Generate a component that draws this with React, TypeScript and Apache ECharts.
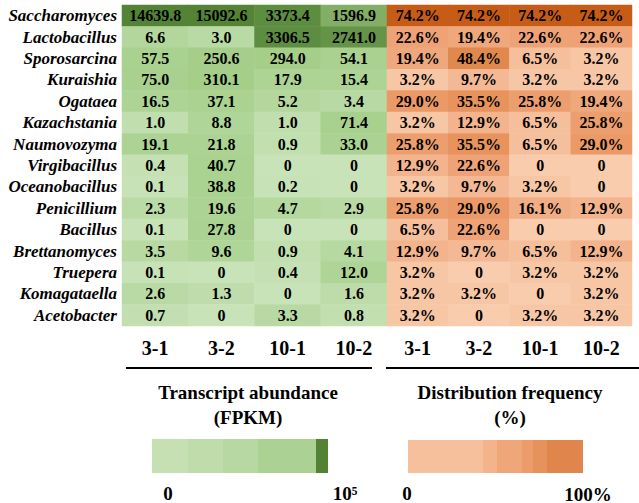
import React, { useEffect, useRef } from "react";
import * as echarts from "echarts";

const genera = [
  "Saccharomyces", "Lactobacillus", "Sporosarcina", "Kuraishia", "Ogataea",
  "Kazachstania", "Naumovozyma", "Virgibacillus", "Oceanobacillus", "Penicillium",
  "Bacillus", "Brettanomyces", "Truepera", "Komagataella", "Acetobacter",
];
const samples = ["3-1", "3-2", "10-1", "10-2"];

// Transcript abundance (FPKM), one array per sample, in genera order
const fpkm_3_1 = [14639.8, 6.6, 57.5, 75.0, 16.5, 1.0, 19.1, 0.4, 0.1, 2.3, 0.1, 3.5, 0.1, 2.6, 0.7];
const fpkm_3_2 = [15092.6, 3.0, 250.6, 310.1, 37.1, 8.8, 21.8, 40.7, 38.8, 19.6, 27.8, 9.6, 0, 1.3, 0];
const fpkm_10_1 = [3373.4, 3306.5, 294.0, 17.9, 5.2, 1.0, 0.9, 0, 0.2, 4.7, 0, 0.9, 0.4, 0, 3.3];
const fpkm_10_2 = [1596.9, 2741.0, 54.1, 15.4, 3.4, 71.4, 33.0, 0, 0, 2.9, 0, 4.1, 12.0, 1.6, 0.8];

// Distribution frequency (%)
const freq_3_1 = [74.2, 22.6, 19.4, 3.2, 29.0, 3.2, 25.8, 12.9, 3.2, 25.8, 6.5, 12.9, 3.2, 3.2, 3.2];
const freq_3_2 = [74.2, 19.4, 48.4, 9.7, 35.5, 12.9, 35.5, 22.6, 9.7, 29.0, 22.6, 9.7, 0, 3.2, 0];
const freq_10_1 = [74.2, 22.6, 6.5, 3.2, 25.8, 6.5, 6.5, 0, 3.2, 16.1, 0, 6.5, 3.2, 0, 3.2];
const freq_10_2 = [74.2, 22.6, 3.2, 3.2, 19.4, 25.8, 29.0, 0, 0, 12.9, 0, 12.9, 3.2, 3.2, 3.2];

const fpkmCols = [fpkm_3_1, fpkm_3_2, fpkm_10_1, fpkm_10_2];
const freqCols = [freq_3_1, freq_3_2, freq_10_1, freq_10_2];

const SERIF = "Liberation Serif";

export default function App() {
  const ref = useRef<HTMLDivElement>(null);
  useEffect(() => {
    if (!ref.current) return;
    const chart = echarts.init(ref.current, null, { renderer: "svg" });

    const greenData: any[] = [];
    fpkmCols.forEach((col, x) =>
      col.forEach((v, y) => greenData.push([x, y, v, Math.log10(v + 1)]))
    );
    const orangeData: any[] = [];
    freqCols.forEach((col, x) => col.forEach((v, y) => orangeData.push([x, y, v])));

    const labelStyle = {
      show: true,
      color: "#000",
      fontFamily: SERIF,
      fontWeight: "bold",
      fontSize: 16,
    };

    const top = 5;
    const height = 321;

    const greenLegend = [
      [152, 188, "#c6e0b4"],
      [188, 223, "#bfdcab"],
      [223, 258, "#b7d8a2"],
      [258, 316, "#abd292"],
      [316, 328, "#548235"],
    ];
    const orangeLegend = [
      [408, 483, "#f7c09d"],
      [483, 497, "#f3b38b"],
      [497, 522, "#efa77a"],
      [522, 533, "#eb9c6a"],
      [533, 547, "#e6925c"],
      [547, 583, "#e0854c"],
    ];

    const titleStyle = {
      fill: "#000",
      fontFamily: SERIF,
      fontWeight: "bold",
      fontSize: 19,
      align: "center",
      verticalAlign: "middle",
    };

    chart.setOption({
      animation: false,
      backgroundColor: "#fff",
      grid: [
        { left: 122, top, width: 265, height },
        { left: 387, top, width: 245, height },
      ],
      xAxis: [0, 1].map((i) => ({
        type: "category",
        gridIndex: i,
        data: samples,
        position: "bottom",
        axisLine: { show: false },
        axisTick: { show: false },
        splitLine: { show: false },
        axisLabel: {
          color: "#000",
          fontFamily: SERIF,
          fontWeight: "bold",
          fontSize: 20,
          margin: 12,
          interval: 0,
        },
      })),
      yAxis: [0, 1].map((i) => ({
        type: "category",
        gridIndex: i,
        data: genera,
        inverse: true,
        axisLine: { show: false },
        axisTick: { show: false },
        splitLine: { show: false },
        axisLabel: {
          show: i === 0,
          interval: 0,
          color: "#000",
          fontFamily: SERIF,
          fontWeight: "bold",
          fontStyle: "italic",
          fontSize: 17,
          margin: 5,
        },
      })),
      visualMap: [
        {
          type: "continuous",
          show: false,
          seriesIndex: 0,
          dimension: 3,
          min: 0,
          max: 4.5,
          inRange: {
            color: [
              "#c9e3b9", "#bbdba7", "#b0d598", "#abd292", "#a8d08d",
              "#a5ce89", "#9bc57f", "#5d8d40", "#568536", "#517f33",
            ],
          },
        },
        {
          type: "continuous",
          show: false,
          seriesIndex: 1,
          dimension: 2,
          min: 0,
          max: 80,
          inRange: {
            color: [
              "#f9ccae", "#f4b893", "#efa67b", "#ea9864", "#e68f56",
              "#e0884a", "#d97a34", "#c95f18", "#c35810",
            ],
          },
        },
      ],
      series: [
        {
          type: "heatmap",
          xAxisIndex: 0,
          yAxisIndex: 0,
          data: greenData,
          label: {
            ...labelStyle,
            formatter: (p: any) => (p.value[2] === 0 ? "0" : p.value[2].toFixed(1)),
          },
          emphasis: { disabled: true },
        },
        {
          type: "heatmap",
          xAxisIndex: 1,
          yAxisIndex: 1,
          data: orangeData,
          label: {
            ...labelStyle,
            formatter: (p: any) => (p.value[2] === 0 ? "0" : p.value[2].toFixed(1) + "%"),
          },
          emphasis: { disabled: true },
        },
      ],
      graphic: [
        { type: "line", shape: { x1: 126, y1: 368, x2: 372, y2: 368 }, style: { stroke: "#000", lineWidth: 2 } },
        { type: "line", shape: { x1: 386, y1: 368, x2: 639, y2: 368 }, style: { stroke: "#000", lineWidth: 2 } },
        { type: "text", x: 248, y: 392, style: { ...titleStyle, text: "Transcript abundance" } },
        { type: "text", x: 248, y: 417, style: { ...titleStyle, text: "(FPKM)" } },
        { type: "text", x: 510, y: 392, style: { ...titleStyle, text: "Distribution frequency" } },
        { type: "text", x: 510, y: 417, style: { ...titleStyle, text: "(%)" } },
        ...greenLegend.map(([a, b, c]) => ({
          type: "rect",
          shape: { x: a as number, y: 439, width: (b as number) - (a as number), height: 34 },
          style: { fill: c as string },
        })),
        ...orangeLegend.map(([a, b, c]) => ({
          type: "rect",
          shape: { x: a as number, y: 440, width: (b as number) - (a as number), height: 33 },
          style: { fill: c as string },
        })),
        { type: "text", x: 168, y: 493, style: { ...titleStyle, text: "0" } },
        { type: "text", x: 345, y: 493, style: { ...titleStyle, text: "10⁵" } },
        { type: "text", x: 407, y: 493, style: { ...titleStyle, text: "0" } },
        { type: "text", x: 588, y: 494, style: { ...titleStyle, text: "100%" } },
      ],
    });
    return () => chart.dispose();
  }, []);
  return (
    <div
      ref={ref}
      style={{ position: "fixed", left: 0, top: 0, width: 639, height: 503 }}
    />
  );
}
